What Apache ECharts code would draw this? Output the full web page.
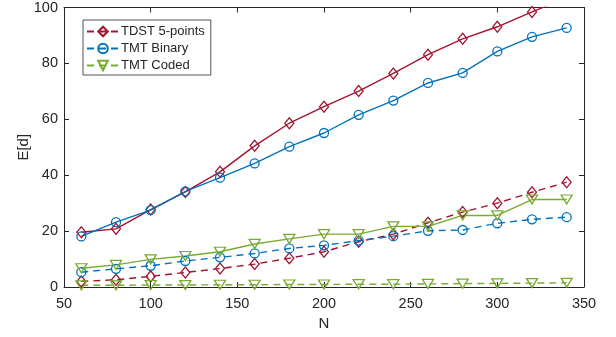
<!DOCTYPE html>
<html>
<head>
<meta charset="utf-8">
<script src="https://cdn.jsdelivr.net/npm/echarts@6/dist/echarts.min.js"></script>
<style>
  html, body { margin: 0; padding: 0; background: #fff; }
  #chart { width: 616px; height: 337px; }
</style>
</head>
<body>
<div id="chart"></div>
<script>
// Network size N on the horizontal axis
const N = [60, 80, 100, 120, 140, 160, 180, 200, 220, 240, 260, 280, 300, 320, 340];

// Solid curves
const tdstSolid   = [19.6, 20.8, 27.7, 34.0, 41.2, 50.5, 58.6, 64.5, 70.1, 76.4, 83.1, 88.8, 93.1, 98.4, 103.5];
const binarySolid = [18.1, 23.2, 27.5, 34.2, 39.1, 44.2, 50.2, 55.1, 61.6, 66.7, 73.0, 76.6, 84.3, 89.5, 92.7];
const codedSolid  = [6.7, 7.9, 9.9, 11.1, 12.6, 15.4, 17.2, 18.9, 18.9, 21.7, 21.7, 25.6, 25.6, 31.3, 31.3];

// Dashed curves
const tdstDashed   = [2.0, 2.6, 3.8, 5.2, 6.6, 8.2, 10.3, 12.6, 16.2, 18.9, 23.0, 26.8, 30.0, 33.9, 37.5];
const binaryDashed = [5.3, 6.5, 7.6, 9.3, 10.6, 12.0, 13.8, 14.9, 16.6, 18.2, 20.1, 20.4, 22.8, 24.2, 25.0];
const codedDashed  = [0.6, 0.6, 0.7, 0.7, 0.8, 0.8, 0.9, 0.9, 1.0, 1.0, 1.1, 1.2, 1.3, 1.4, 1.5];

// Legend entries
const legendNames = ['TDST 5-points', 'TMT Binary', 'TMT Coded'];

const RED = '#A2142F', BLUE = '#0072BD', GREEN = '#77AC30';
const AXIS = '#262626';
const FONT = '"Liberation Sans", Arial, Helvetica, sans-serif';

function pairs(ys) { return N.map((x, i) => [x, ys[i]]); }

function makeSeries(name, ys, color, dashed, symbol, size, rotate) {
  return {
    name: name,
    type: 'line',
    data: pairs(ys),
    symbol: symbol,
    symbolSize: size,
    symbolRotate: rotate || 0,
    showAllSymbol: true,
    clip: true,
    animation: false,
    lineStyle: { color: color, width: 1.4, type: dashed ? [7, 5] : 'solid' },
    itemStyle: { color: 'rgba(255,255,255,0)', borderColor: color, borderWidth: 1.3 },
    emphasis: { disabled: true }
  };
}

const chart = echarts.init(document.getElementById('chart'), null, { renderer: 'canvas' });

const xCommon = { type: 'value', min: 50, max: 350, interval: 50 };
const yCommon = { type: 'value', min: 0, max: 100, interval: 20 };
const lineOpt = { show: true, onZero: false, lineStyle: { color: AXIS, width: 1 } };
const tickOpt = { show: true, inside: true, length: 5, lineStyle: { color: AXIS, width: 1 } };

chart.setOption({
  backgroundColor: '#fff',
  animation: false,
  textStyle: { fontFamily: FONT },
  grid: { left: 64, right: 32, top: 5, bottom: 50, containLabel: false },
  legend: {
    data: legendNames,
    orient: 'vertical',
    left: 83,
    top: 20,
    padding: [5, 6, 3, 3],
    itemGap: 4,
    itemWidth: 32,
    itemHeight: 12,
    backgroundColor: '#fff',
    borderColor: AXIS,
    borderWidth: 0.8,
    borderRadius: 0,
    textStyle: { fontSize: 13, color: AXIS, fontFamily: FONT, padding: [0, 0, 0, -3] },
    selectedMode: false
  },
  xAxis: [
    Object.assign({}, xCommon, {
      position: 'bottom',
      name: 'N',
      nameLocation: 'middle',
      nameGap: 29,
      nameMoveOverlap: false,
      nameTextStyle: { fontSize: 15, color: AXIS, fontFamily: FONT },
      axisLine: lineOpt,
      axisTick: tickOpt,
      axisLabel: { fontSize: 14.5, color: AXIS, margin: 9, fontFamily: FONT },
      splitLine: { show: false }
    }),
    Object.assign({}, xCommon, {
      position: 'top',
      axisLine: lineOpt,
      axisTick: tickOpt,
      axisLabel: { show: false },
      splitLine: { show: false }
    })
  ],
  yAxis: [
    Object.assign({}, yCommon, {
      position: 'left',
      name: 'E[d]',
      nameLocation: 'middle',
      nameGap: 33,
      nameRotate: 90,
      nameMoveOverlap: false,
      nameTextStyle: { fontSize: 15, color: AXIS, fontFamily: FONT },
      axisLine: lineOpt,
      axisTick: tickOpt,
      axisLabel: { fontSize: 14.5, color: AXIS, margin: 6, fontFamily: FONT },
      splitLine: { show: false }
    }),
    Object.assign({}, yCommon, {
      position: 'right',
      axisLine: lineOpt,
      axisTick: tickOpt,
      axisLabel: { show: false },
      splitLine: { show: false }
    })
  ],
  series: [
    makeSeries('TDST 5-points', tdstDashed, RED, true, 'diamond', [9, 11]),
    makeSeries('TMT Binary', binaryDashed, BLUE, true, 'circle', 9),
    makeSeries('TMT Coded', codedDashed, GREEN, true, 'triangle', [11, 9], 180),
    makeSeries('TDST 5-points solid', tdstSolid, RED, false, 'diamond', [9, 11]),
    makeSeries('TMT Binary solid', binarySolid, BLUE, false, 'circle', 9),
    makeSeries('TMT Coded solid', codedSolid, GREEN, false, 'triangle', [11, 9], 180)
  ]
});
</script>
</body>
</html>
